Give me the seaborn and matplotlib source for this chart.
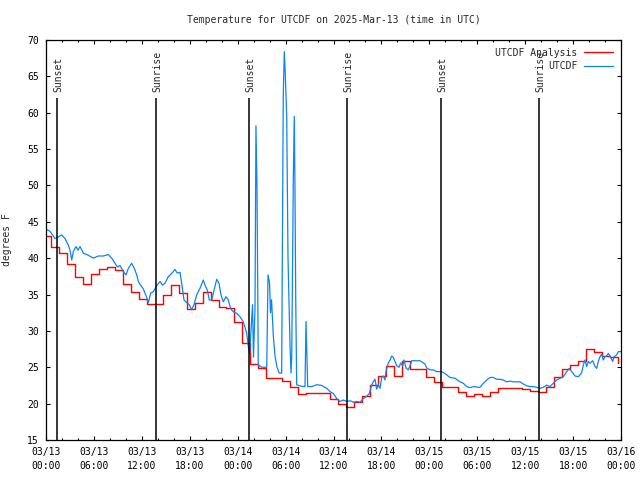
import numpy as np
import pandas as pd
import matplotlib
matplotlib.use("Agg")
import matplotlib.pyplot as plt
import seaborn as sns

sns.set_style("ticks")
plt.rcParams['font.family'] = ['DejaVu Sans Mono']
plt.rcParams['font.size'] = 7

# hours since 2025-03-13 00:00 UTC
analysis_hours = list(range(0, 73))
analysis_temps = [43.05, 41.5, 40.7, 39.2, 37.4, 36.45, 37.8, 38.5, 38.75, 38.4,
                  36.45, 35.3, 34.35, 33.7, 33.7, 34.95, 36.3, 35.2, 33.0, 33.9,
                  35.3, 34.25, 33.3, 33.15, 31.2, 28.4, 25.4, 24.9, 23.5, 23.5,
                  23.1, 22.25, 21.3, 21.4, 21.5, 21.5, 20.6, 19.9, 19.5, 20.2,
                  21.0, 22.55, 23.8, 25.2, 23.8, 25.9, 24.7, 24.7, 23.7, 22.95,
                  22.25, 22.25, 21.65, 21.05, 21.3, 21.0, 21.65, 22.2, 22.2, 22.2,
                  22.0, 21.8, 21.55, 22.35, 23.6, 24.8, 25.3, 25.9, 27.45, 27.1,
                  26.55, 26.45, 25.55]

obs_hours = [0.09, 0.5, 1.13, 1.5, 1.97, 2.38, 2.79, 3.0, 3.22, 3.42,
             3.76, 4.0, 4.26, 4.67, 5.3, 5.92, 6.55, 7.18, 7.8, 8.23,
             8.64, 8.93, 9.27, 9.68, 10.02, 10.31, 10.73, 11.06, 11.36, 11.56,
             11.77, 12.18, 12.61, 12.81, 13.11, 13.44, 13.86, 14.28, 14.59, 14.9,
             15.31, 15.74, 16.15, 16.44, 16.78, 16.99, 17.28, 17.62, 17.94, 18.24,
             18.53, 18.87, 19.28, 19.7, 19.91, 20.2, 20.45, 20.75, 21.04, 21.38,
             21.66, 21.91, 22.2, 22.54, 22.83, 23.13, 23.45, 23.88, 24.29, 24.71,
             25.13, 25.33, 25.5, 25.67, 25.86, 25.98, 26.17, 26.29, 26.42, 26.58,
             27.05, 27.64, 27.8, 27.99, 28.11, 28.24, 28.46, 28.68, 28.93, 29.21,
             29.51, 29.59, 29.71, 29.84, 29.96, 30.14, 30.3, 30.55, 30.68, 30.77,
             30.84, 30.97, 31.09, 31.18, 31.27, 31.39, 31.93, 32.43, 32.56, 32.77,
             33.31, 33.9, 34.52, 35.15, 35.56, 35.98, 36.4, 36.81, 37.23, 37.65,
             38.07, 38.48, 38.91, 39.32, 39.73, 40.16, 40.48, 40.78, 40.98, 41.2,
             41.41, 41.61, 41.82, 42.04, 42.24, 42.45, 42.57, 42.86, 43.08, 43.29,
             43.49, 43.7, 43.91, 44.2, 44.42, 44.67, 44.83, 45.08, 45.37, 45.58,
             45.79, 46.21, 46.83, 47.46, 47.67, 48.08, 48.5, 48.92, 49.42, 49.75,
             50.18, 50.59, 51.21, 51.84, 52.25, 52.68, 53.09, 53.59, 54.13, 54.35,
             54.76, 55.18, 55.6, 56.01, 56.44, 56.85, 57.26, 57.69, 58.1, 58.52,
             58.94, 59.35, 59.77, 60.19, 60.61, 61.02, 61.45, 61.86, 62.27, 62.7,
             63.11, 63.52, 63.95, 64.36, 64.78, 65.2, 65.53, 65.83, 66.24, 66.66,
             67.08, 67.28, 67.49, 67.71, 67.91, 68.12, 68.46, 68.75, 68.96, 69.16,
             69.37, 69.58, 69.78, 70.0, 70.19, 70.41, 70.62, 70.96, 71.12, 71.46,
             71.66, 72.0]
obs_temps = [43.95, 43.7, 42.7, 42.9, 43.2, 42.7, 41.8, 41.1, 39.75, 40.9,
             41.6, 41.1, 41.6, 40.7, 40.4, 40.0, 40.3, 40.3, 40.5, 40.0,
             39.3, 38.8, 39.0, 38.15, 37.7, 38.6, 39.3, 38.6, 37.7, 36.8,
             36.4, 35.8, 34.6, 33.9, 35.2, 35.4, 36.2, 36.8, 36.3, 36.55,
             37.45, 37.9, 38.45, 37.95, 38.05, 36.55, 34.25, 33.9, 33.6, 32.9,
             33.6, 34.95, 35.85, 37.0, 36.3, 35.6, 34.25, 34.25, 35.6, 37.1,
             36.55, 34.95, 34.0, 34.7, 34.25, 33.0, 32.65, 32.4, 31.95, 31.25,
             29.7, 27.85, 26.9, 30.0, 33.6, 26.4, 33.0, 58.2, 49.8, 25.3,
             25.0, 25.0, 37.7, 36.6, 32.5, 34.3, 29.4, 26.5, 25.0, 24.2,
             24.2, 40.2, 62.4, 68.4, 65.4, 59.5, 40.2, 28.3, 24.2, 26.4,
             34.9, 51.2, 59.5, 49.0, 34.3, 22.6, 22.4, 22.35, 31.3, 22.35,
             22.35, 22.6, 22.5, 22.1, 21.65, 21.4, 20.7, 20.3, 20.5, 20.3,
             20.4, 20.2, 20.3, 20.2, 20.7, 21.0, 21.4, 22.55, 23.0, 23.35,
             22.0, 22.55, 22.1, 23.6, 23.8, 23.25, 24.4, 25.6, 26.0, 26.55,
             26.35, 25.8, 25.2, 25.0, 25.6, 25.2, 26.0, 24.9, 24.65, 25.2,
             25.9, 25.9, 25.9, 25.45, 24.9, 24.65, 24.65, 24.4, 24.4, 24.3,
             23.95, 23.6, 23.5, 23.0, 22.8, 22.35, 22.2, 22.35, 22.25, 22.25,
             22.8, 23.25, 23.6, 23.6, 23.35, 23.35, 23.25, 23.0, 23.1, 23.0,
             23.0, 23.0, 22.7, 22.45, 22.35, 22.35, 22.25, 22.1, 22.25, 22.55,
             22.35, 22.8, 23.25, 23.5, 23.7, 24.4, 24.85, 24.4, 23.8, 23.7,
             24.25, 25.3, 26.0, 25.1, 25.8, 25.55, 25.9, 25.1, 24.85, 25.8,
             26.45, 26.8, 26.0, 26.45, 26.55, 26.9, 26.55, 25.8, 26.45, 26.7,
             27.15, 27.15]

sun_hours = [1.42, 13.82, 25.46, 37.73, 49.5, 61.77]
sun_labels = ["Sunset", "Sunrise", "Sunset", "Sunrise", "Sunset", "Sunrise"]

tick_hours = list(range(0, 73, 6))
tick_labels = ["03/13\n00:00", "03/13\n06:00", "03/13\n12:00", "03/13\n18:00",
               "03/14\n00:00", "03/14\n06:00", "03/14\n12:00", "03/14\n18:00",
               "03/15\n00:00", "03/15\n06:00", "03/15\n12:00", "03/15\n18:00",
               "03/16\n00:00"]

df_an = pd.DataFrame({"hour": np.array(analysis_hours) - 0.4, "temp": analysis_temps})
df_ob = pd.DataFrame({"hour": obs_hours, "temp": obs_temps})

fig, ax = plt.subplots(figsize=(6.4, 4.8), dpi=100)
fig.subplots_adjust(left=46/640, right=621/640, top=1-40/480, bottom=1-440/480)

sns.lineplot(data=df_an, x="hour", y="temp", ax=ax, color="#ff0000", lw=1,
             drawstyle="steps-post", estimator=None, label="UTCDF Analysis")
sns.lineplot(data=df_ob, x="hour", y="temp", ax=ax, color="#0c84f4", lw=0.9,
             estimator=None, label="UTCDF")

ax.vlines(sun_hours, 15, 62, color="black", lw=1.1)
for h, lab in zip(sun_hours, sun_labels):
    ax.text(h + 0.15, 62.9, lab, rotation=90, ha="center", va="bottom")

ax.set_xlim(0, 72)
ax.set_ylim(15, 70)
ax.set_xticks(tick_hours)
ax.set_xticklabels(tick_labels)
for t in ax.get_xticklabels():
    t.set_linespacing(1.5)
ax.set_xticks(range(0, 73, 2), minor=True)
ax.set_yticks(range(15, 71, 5))
ax.tick_params(which="both", direction="in", top=True, right=True, colors="black")
ax.tick_params(which="major", length=3, width=0.8, pad=5)
ax.tick_params(which="minor", length=1.5, width=0.8)
for s in ax.spines.values():
    s.set_linewidth(0.9)
    s.set_color("black")

ax.set_xlabel("")
ax.set_ylabel("degrees F", labelpad=11)
ax.set_title("Temperature for UTCDF on 2025-Mar-13 (time in UTC)", fontsize=7, pad=12)

ax.legend(loc="upper right", frameon=False, markerfirst=False, handlelength=3,
          handletextpad=0.7, labelspacing=0.35, borderaxespad=0.4, fontsize=7)

fig.savefig("out.png", dpi=100)
